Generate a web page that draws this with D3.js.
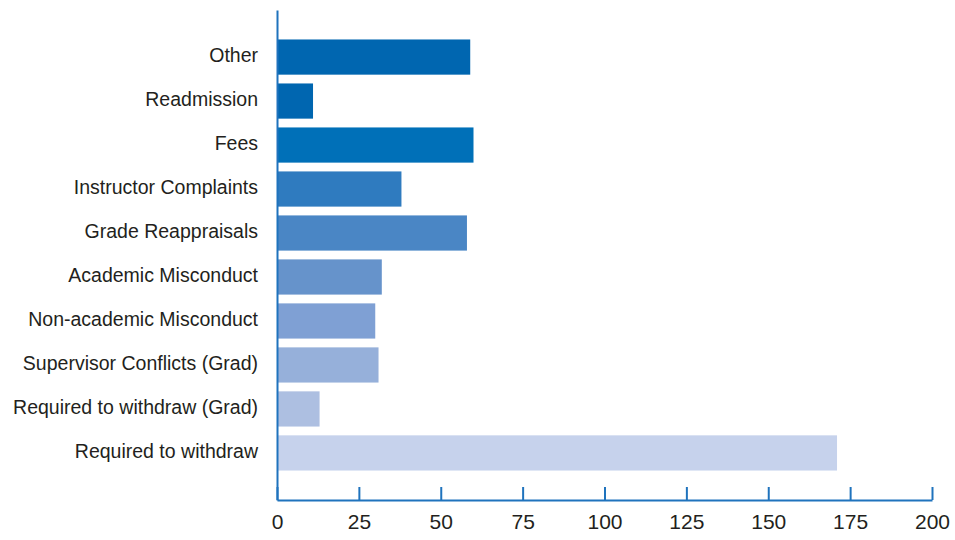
<!DOCTYPE html>
<html>
<head>
<meta charset="utf-8">
<script src="https://cdn.jsdelivr.net/npm/d3@7"></script>
<style>
  body { margin: 0; background: #fff; }
  text { font-family: "Liberation Sans Narrow", "Liberation Sans", sans-serif; fill: #231f20; }
</style>
</head>
<body>
<div id="chart"></div>
<script>
// categories, top to bottom
var categories = ["Other", "Readmission", "Fees", "Instructor Complaints", "Grade Reappraisals",
    "Academic Misconduct", "Non-academic Misconduct", "Supervisor Conflicts (Grad)",
    "Required to withdraw (Grad)", "Required to withdraw"];
var counts = [59, 11, 60, 38, 58, 32, 30, 31, 13, 171];
var barColors = ["#0066b0", "#0066b0", "#0070b8", "#2f7bbf", "#4a86c5",
    "#6693cb", "#7fa0d4", "#96b0da", "#adbfe1", "#c6d2ec"];
var xTicks = [0, 25, 50, 75, 100, 125, 150, 175, 200];

var margin = {top: 10, right: 23, bottom: 40, left: 277},
    width = 955 - margin.left - margin.right,
    height = 540 - margin.top - margin.bottom;

var svg = d3.select("#chart")
    .append("svg")
        .attr("width", 955)
        .attr("height", 540)
    .append("g")
        .attr("transform", "translate(" + margin.left + "," + margin.top + ")");

//x scale
var x = d3.scaleLinear()
    .domain([0, 200])
    .range([0, width]);

//y scale
var y = d3.scaleBand()
    .domain(categories)
    .range([0, height])
    .paddingInner(0.2)
    .paddingOuter(0.67);

// bars
svg.append("g")
    .selectAll("rect")
    .data(categories)
    .enter()
    .append("rect")
        .attr("x", x(0))
        .attr("y", function(d){ return y(d); })
        .attr("width", function(d, i){ return x(counts[i]) - x(0); })
        .attr("height", y.bandwidth())
        .style("fill", function(d, i){ return barColors[i]; });

// x axis, ticks point up
var xAxis = svg.append("g")
    .attr("transform", "translate(0," + height + ")")
    .call(d3.axisBottom(x).tickValues(xTicks).tickSizeInner(-13).tickSizeOuter(0).tickPadding(14));
xAxis.select(".domain").attr("stroke", "#1f73bd").attr("stroke-width", 2);
xAxis.selectAll(".tick line").attr("stroke", "#1f73bd").attr("stroke-width", 2);
xAxis.selectAll(".tick text").attr("font-size", "21px").style("font-family", "'Liberation Sans Narrow', sans-serif").attr("fill", "#231f20");

// y axis, labels only
var yAxis = svg.append("g")
    .call(d3.axisLeft(y).tickSize(0).tickPadding(19));
yAxis.select(".domain").attr("stroke", "#1f73bd").attr("stroke-width", 2);
yAxis.selectAll(".tick text").attr("font-size", "19.5px").attr("dy", "0.25em")
    .style("font-family", "'Liberation Sans Narrow', sans-serif").attr("fill", "#231f20");
</script>
</body>
</html>
